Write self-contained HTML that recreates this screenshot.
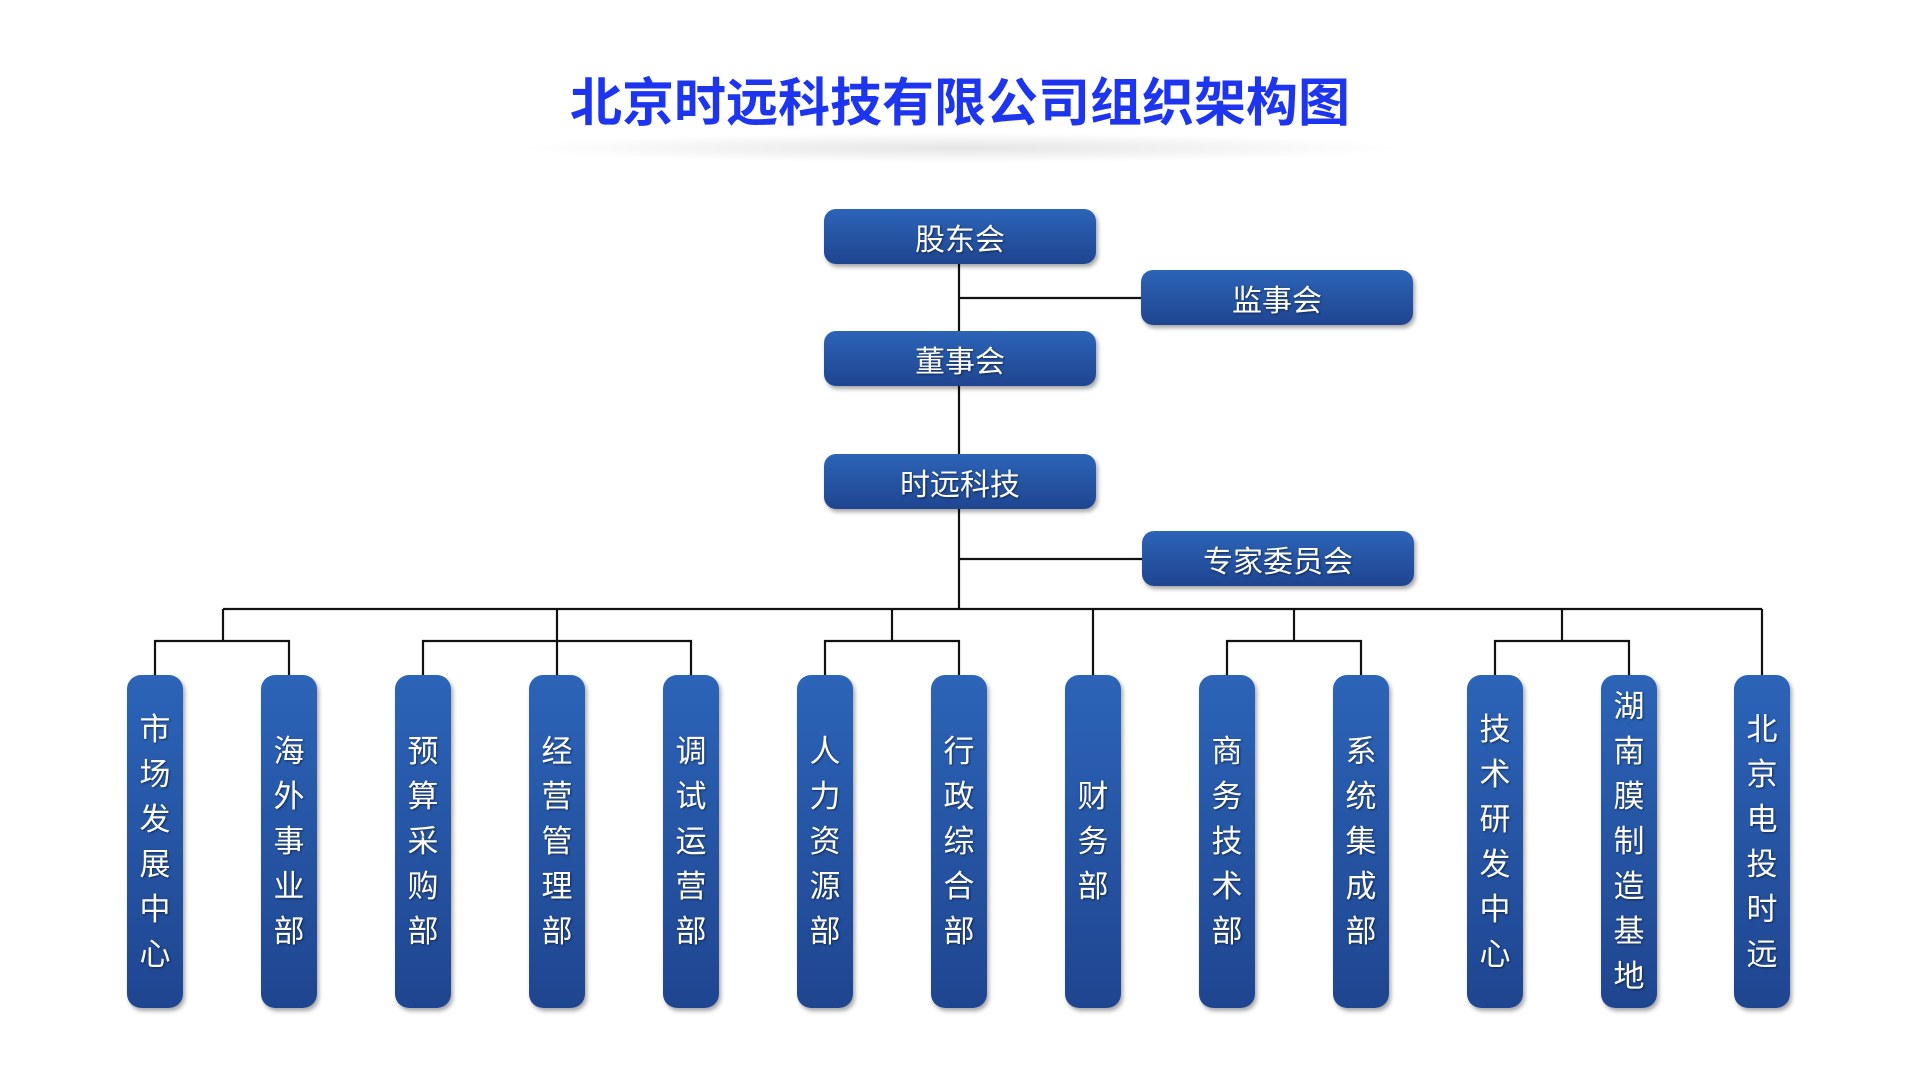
<!DOCTYPE html>
<html><head><meta charset="utf-8"><style>
html,body{margin:0;padding:0;background:#fff;width:1920px;height:1080px;overflow:hidden;position:relative;font-family:"Liberation Sans","Noto Sans CJK SC",sans-serif;}
.t{position:absolute;left:0;width:1920px;top:74px;text-align:center;font-size:52px;font-weight:bold;color:#1d35ee;line-height:60px;}
.sh{position:absolute;left:510px;width:900px;top:133px;height:30px;border-radius:50%;background:radial-gradient(ellipse at center,rgba(0,0,0,0.10),rgba(0,0,0,0) 70%);}
.b{position:absolute;background:linear-gradient(#2c64b8,#1f4590);border-radius:12px;box-shadow:2px 3px 4px rgba(0,0,0,0.35);color:#fff;text-shadow:1px 1px 2px rgba(0,0,0,0.5);display:flex;align-items:center;justify-content:center;}
.h{width:272px;height:55px;font-size:30px;}
.v{width:56px;height:333px;top:675px;font-size:31px;flex-direction:column;line-height:45px;border-radius:14px;}
svg{position:absolute;left:0;top:0;}
</style></head><body>
<div class="sh"></div>
<div class="t">北京时远科技有限公司组织架构图</div>
<svg width="1920" height="1080">
<g stroke="#111" stroke-width="2.2" fill="none">
<line x1="959" y1="264" x2="959" y2="331"/>
<line x1="959" y1="298" x2="1141" y2="298"/>
<line x1="959" y1="386" x2="959" y2="454"/>
<line x1="959" y1="509" x2="959" y2="609"/>
<line x1="959" y1="559" x2="1142" y2="559"/>
<line x1="223" y1="609" x2="1762" y2="609"/>
<line x1="223" y1="609" x2="223" y2="641"/>
<polyline points="155,675 155,641 289,641 289,675"/>
<line x1="557" y1="609" x2="557" y2="675"/>
<polyline points="423,675 423,641 691,641 691,675"/>
<line x1="892" y1="609" x2="892" y2="641"/>
<polyline points="825,675 825,641 959,641 959,675"/>
<line x1="1093" y1="609" x2="1093" y2="675"/>
<line x1="1294" y1="609" x2="1294" y2="641"/>
<polyline points="1227,675 1227,641 1361,641 1361,675"/>
<line x1="1562" y1="609" x2="1562" y2="641"/>
<polyline points="1495,675 1495,641 1629,641 1629,675"/>
<line x1="1762" y1="609" x2="1762" y2="675"/>
</g></svg>
<div class="b h" style="left:824px;top:209px">股东会</div>
<div class="b h" style="left:1141px;top:270px">监事会</div>
<div class="b h" style="left:824px;top:331px">董事会</div>
<div class="b h" style="left:824px;top:454px">时远科技</div>
<div class="b h" style="left:1142px;top:531px">专家委员会</div>
<div class="b v" style="left:127px"><span>市</span><span>场</span><span>发</span><span>展</span><span>中</span><span>心</span></div>
<div class="b v" style="left:261px"><span>海</span><span>外</span><span>事</span><span>业</span><span>部</span></div>
<div class="b v" style="left:395px"><span>预</span><span>算</span><span>采</span><span>购</span><span>部</span></div>
<div class="b v" style="left:529px"><span>经</span><span>营</span><span>管</span><span>理</span><span>部</span></div>
<div class="b v" style="left:663px"><span>调</span><span>试</span><span>运</span><span>营</span><span>部</span></div>
<div class="b v" style="left:797px"><span>人</span><span>力</span><span>资</span><span>源</span><span>部</span></div>
<div class="b v" style="left:931px"><span>行</span><span>政</span><span>综</span><span>合</span><span>部</span></div>
<div class="b v" style="left:1065px"><span>财</span><span>务</span><span>部</span></div>
<div class="b v" style="left:1199px"><span>商</span><span>务</span><span>技</span><span>术</span><span>部</span></div>
<div class="b v" style="left:1333px"><span>系</span><span>统</span><span>集</span><span>成</span><span>部</span></div>
<div class="b v" style="left:1467px"><span>技</span><span>术</span><span>研</span><span>发</span><span>中</span><span>心</span></div>
<div class="b v" style="left:1601px"><span>湖</span><span>南</span><span>膜</span><span>制</span><span>造</span><span>基</span><span>地</span></div>
<div class="b v" style="left:1734px"><span>北</span><span>京</span><span>电</span><span>投</span><span>时</span><span>远</span></div>
</body></html>
